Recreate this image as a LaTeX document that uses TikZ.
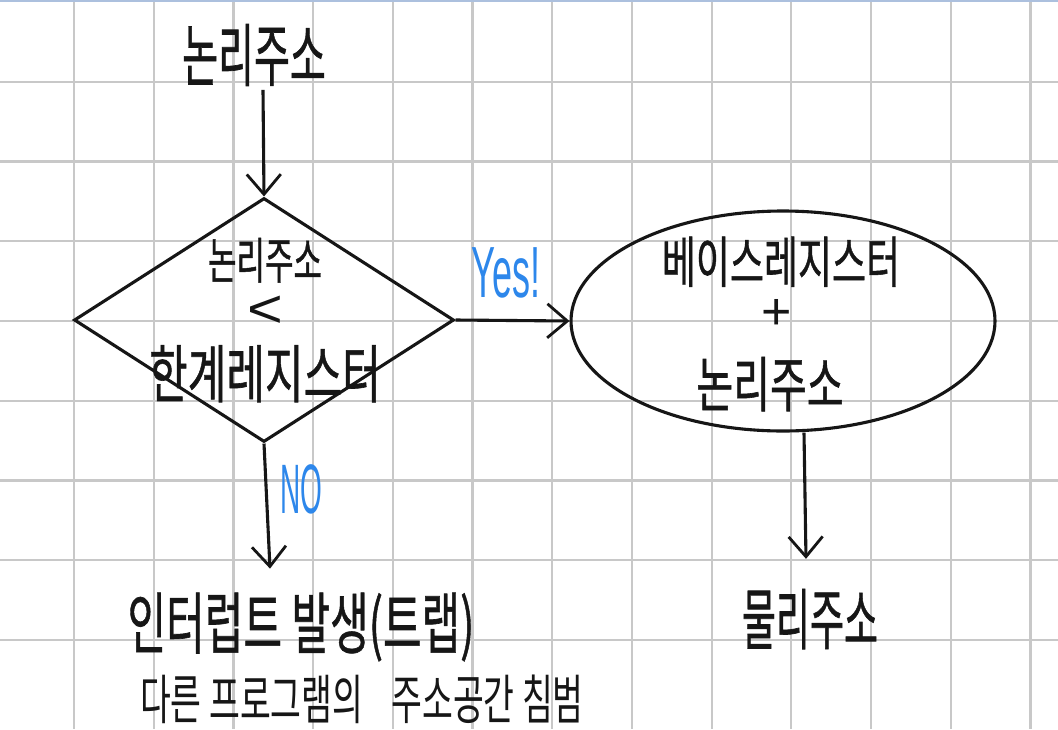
\documentclass[tikz,border=0pt]{standalone}
\usepackage{fontspec}
\usepackage{graphicx}
\usetikzlibrary{shapes.geometric,arrows.meta}
\newfontfamily\kr[FakeBold=1]{Noto Sans CJK KR}
\newfontfamily\krthin{Noto Sans CJK KR}
\newfontfamily\lat{Liberation Sans}
\definecolor{gridc}{RGB}{200,200,200}
\definecolor{topline}{RGB}{172,192,222}
\definecolor{ink}{RGB}{22,22,22}
\definecolor{pen}{RGB}{45,135,235}
\newcommand{\hw}[4]{\scalebox{#1}[#2]{\fontsize{#3}{#3}\selectfont #4}}
\begin{document}
\begin{tikzpicture}[x=1pt,y=1pt,
  gridline/.style={gridc,line width=2.2pt},
  shapeline/.style={draw=ink,line width=3.1pt},
  arr/.style={ink,line width=3.1pt,-{Straight Barb[length=20pt,width=34pt,line width=2.8pt]}},
  lbl/.style={inner sep=0pt,outer sep=0pt,text=ink,font=\kr},
  ans/.style={inner sep=0pt,text=pen,font=\lat}]
\useasboundingbox (0,0) rectangle (1058,-729);
\fill[white] (0,0) rectangle (1058,-729);
\foreach \k in {0,...,12} \draw[gridline] ({74+79.7*\k},0) -- ({74+79.7*\k},-729);
\foreach \k in {1,...,8} \draw[gridline] (0,{-2-79.75*\k}) -- (1058,{-2-79.75*\k});
\draw[topline,line width=2.5pt] (0,-1.2) -- (1058,-1.2);

\node[lbl] (top) at (254,-55) {\hw{1}{1.75}{39}{논리주소}};
\node[diamond,shapeline,minimum width=380pt,minimum height=244pt,inner sep=0pt] (dia) at (264,-320) {};
\node[lbl,align=center] (dtext) at (265,-320) {\hw{1}{1.6}{31}{논리주소}\\[12pt]
  {\lat\hw{1.7}{1.5}{36}{<}}\\[17pt]
  \hw{1}{1.5}{42}{한계레지스터}};
\node[ellipse,shapeline,minimum width=424pt,minimum height=220pt,inner sep=0pt] (ell) at (783,-321) {};
\node[lbl,align=center] (etext) at (777,-324) {\hspace*{8pt}\hw{1}{1.5}{37}{베이스레지스터}\\[12pt]
  {\lat\hw{1.3}{1.3}{40}{+}}\\[26pt]
  \hw{1}{1.5}{40}{논리주소}\hspace*{14pt}};
\node[lbl] (trap) at (301,-627) {\hw{1}{1.6}{42}{인터럽트 발생(트랩)}};
\node[lbl,font=\krthin] (note) at (362,-699) {\hw{1}{1.6}{33.5}{다른 프로그램의\hspace{28pt}주소공간 침범}};
\node[lbl] (phys) at (810,-619) {\hw{1}{1.8}{37}{물리주소}};
\node[ans] (yes) at (506,-273) {\hw{0.72}{1.45}{50}{Yes!}};
\node[ans] (no) at (301,-489) {\hw{0.7}{1.75}{40}{NO}};

\draw[arr] ([xshift=9pt,yshift=-4pt]top.south) -- (dia.north);
\draw[arr] (dia.east) -- (ell.west);
\draw[arr] (dia.south) -- ([xshift=-31pt,yshift=24pt]trap.north);
\draw[arr] ([xshift=21pt]ell.south) -- ([xshift=-4pt,yshift=30pt]phys.north);
\end{tikzpicture}
\end{document}
